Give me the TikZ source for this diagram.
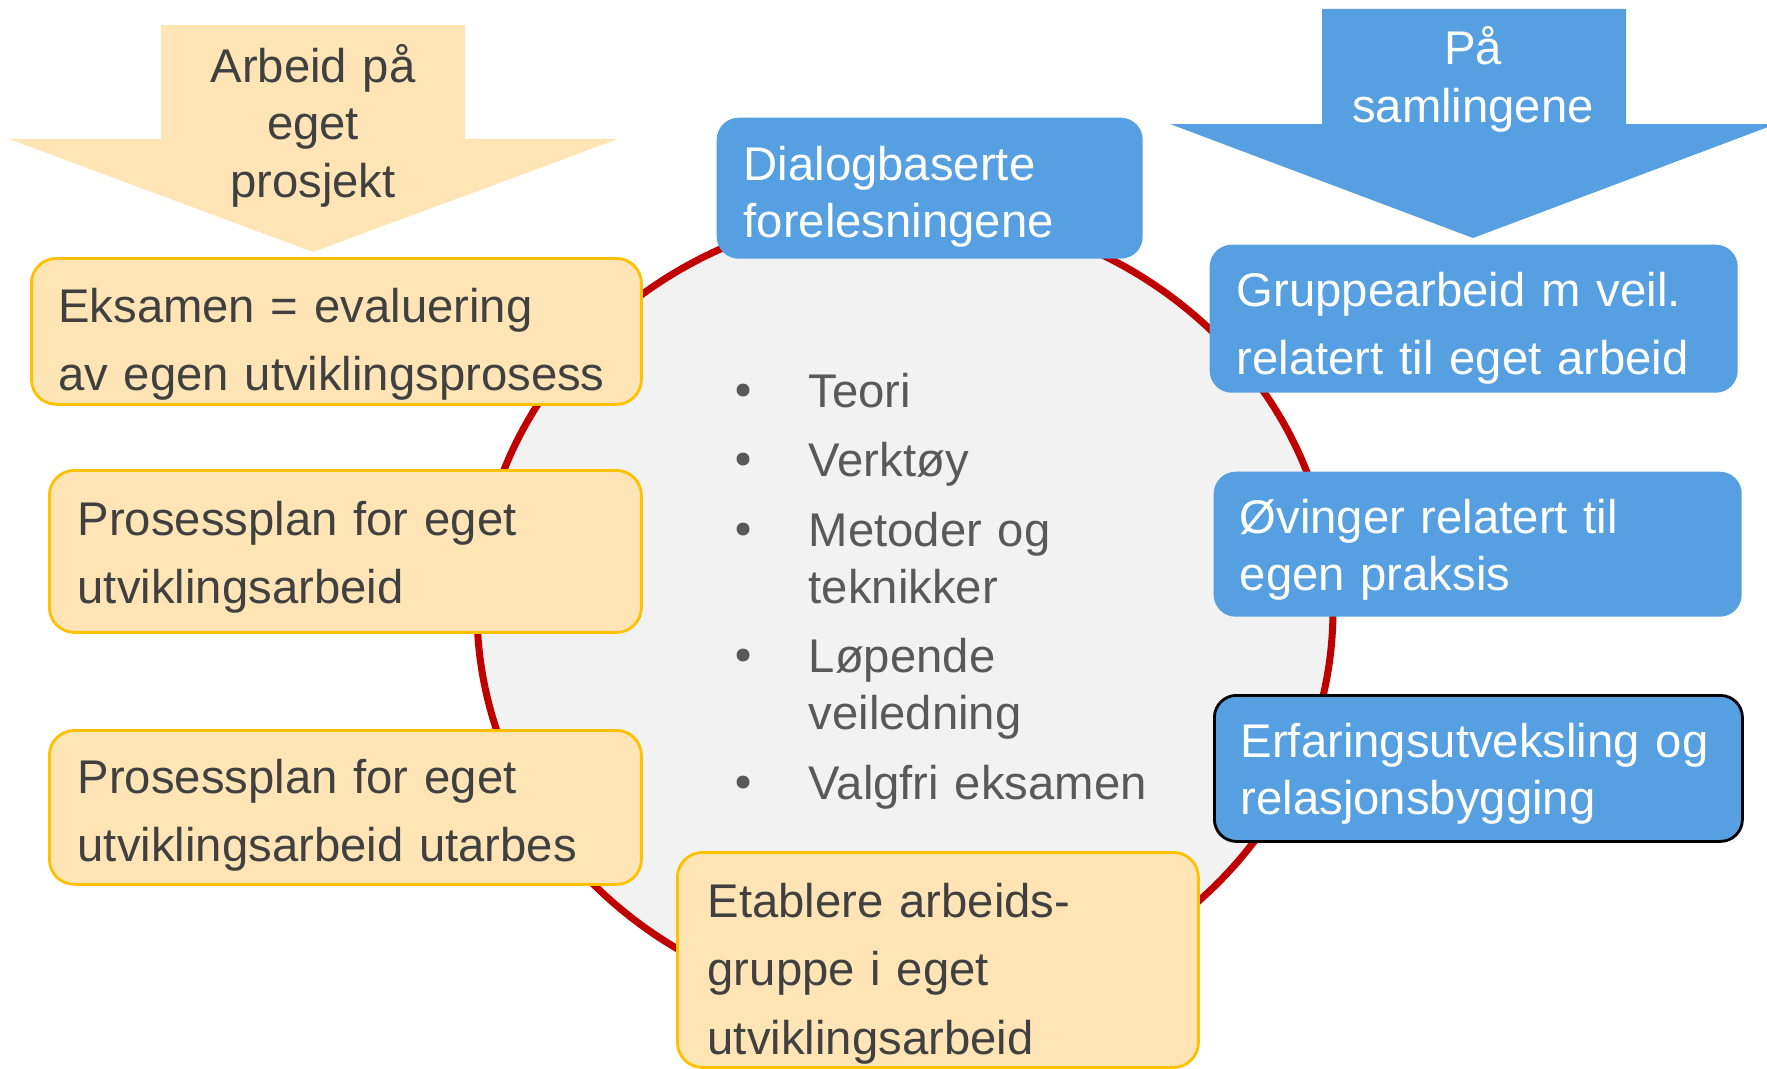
\documentclass[tikz,border=0pt]{standalone}
\usepackage{fontspec}
\setmainfont{Liberation Sans}

\definecolor{ylfill}{HTML}{FFE5B5}
\definecolor{ylline}{HTML}{FFC000}
\definecolor{blfill}{HTML}{569FE0}
\definecolor{rimred}{HTML}{C00000}
\definecolor{discgray}{HTML}{F2F2F2}
\definecolor{inkgray}{HTML}{404040}
\definecolor{listgray}{HTML}{595959}

\newcommand\loosefont{\fontsize{13.45}{19.6}\selectfont}
\newcommand\tightfont{\fontsize{13.45}{16.3}\selectfont}

\begin{document}
\begin{tikzpicture}[x=1cm, y=-1cm,
	ybox/.style={draw=ylline, fill=ylfill, line width=0.8pt, rounded corners=0.25cm, anchor=north west, inner sep=0pt},
	bbox/.style={fill=blfill, rounded corners=0.22cm, anchor=north west, inner sep=0pt},
	txt/.style={anchor=base west, inner sep=0pt, align=left, text width=5.8cm, font=\loosefont, text=inkgray},
	wtxt/.style={txt, text=white},
	item/.style={txt, text width=4.5cm, font=\tightfont, text=listgray},
	head/.style={anchor=base, inner sep=0pt, align=center, text width=4cm, font=\fontsize{13.45}{16.4}\selectfont}]
	\useasboundingbox (0,0) rectangle (17.67,10.68);
	\clip (0,0) rectangle (17.67,10.68);

	% the two big arrows
	\fill[ylfill] (1.61,0.25) -- (4.65,0.25) -- (4.65,1.39) -- (6.18,1.39) -- (3.13,2.52) -- (0.09,1.39) -- (1.61,1.39) -- cycle;
	\node[head, text=inkgray] (arbeid) at (3.13,0.82) {Arbeid på\\eget\\prosjekt};
	\fill[blfill] (13.22,0.09) -- (16.26,0.09) -- (16.26,1.24) -- (17.76,1.24) -- (14.73,2.38) -- (11.70,1.24) -- (13.22,1.24) -- cycle;
	\node[head, text=white] (samling) at (14.73,0.65) {På\\samlingene};

	% the disc
	\draw[rimred, fill=discgray, line width=2pt] (9.05,6.10) ellipse [x radius=4.28, y radius=4.00];

	\foreach \y in {4.07,4.76,5.46,6.72,7.99}
		\fill[listgray] (7.43,\y-0.17) circle (0.065);
	\node[item] (teori) at (8.08,4.07) {Teori};
	\node[item] (verktoy) at (8.08,4.76) {Verktøy};
	\node[item] (metoder) at (8.08,5.46) {Metoder og\\teknikker};
	\node[item] (lopende) at (8.08,6.72) {Løpende\\veiledning};
	\node[item] (valgfri) at (8.08,7.99) {Valgfri eksamen};

	% left side
	\node[ybox, minimum width=6.10cm, minimum height=1.46cm] (eksamen) at (0.30,2.57) {};
	\node[txt] (eksamenT) at (0.575,3.22) {Eksamen = evaluering\\av egen utviklingsprosess};
	\node[ybox, minimum width=5.92cm, minimum height=1.62cm] (plan) at (0.48,4.69) {};
	\node[txt] (planT) at (0.77,5.35) {Prosessplan for eget\\utviklingsarbeid};
	\node[ybox, minimum width=5.92cm, minimum height=1.54cm] (utarbes) at (0.48,7.29) {};
	\node[txt] (utarbesT) at (0.77,7.93) {Prosessplan for eget\\utviklingsarbeid utarbes};
	\node[ybox, minimum width=5.21cm, minimum height=2.15cm] (etablere) at (6.76,8.51) {};
	\node[txt] (etablereT) at (7.07,9.17) {Etablere arbeids-\\gruppe i eget\\utviklingsarbeid};

	% top and right side
	\node[bbox, minimum width=4.26cm, minimum height=1.41cm] (dialog) at (7.16,1.17) {};
	\node[wtxt, font=\tightfont] (dialogT) at (7.43,1.80) {Dialogbaserte\\forelesningene};
	\node[bbox, minimum width=5.28cm, minimum height=1.48cm] (gruppe) at (12.09,2.44) {};
	\node[wtxt] (gruppeT) at (12.36,3.06) {Gruppearbeid m veil.\\relatert til eget arbeid};
	\node[bbox, minimum width=5.28cm, minimum height=1.45cm] (ovinger) at (12.13,4.71) {};
	\node[wtxt, font=\tightfont] (ovingerT) at (12.39,5.33) {Øvinger relatert til\\egen praksis};
	\node[bbox, draw=black, line width=0.8pt, minimum width=5.28cm, minimum height=1.46cm] (erfaring) at (12.13,6.94) {};
	\node[wtxt, font=\tightfont] (erfaringT) at (12.40,7.57) {Erfaringsutveksling og\\relasjonsbygging};
\end{tikzpicture}
\end{document}
